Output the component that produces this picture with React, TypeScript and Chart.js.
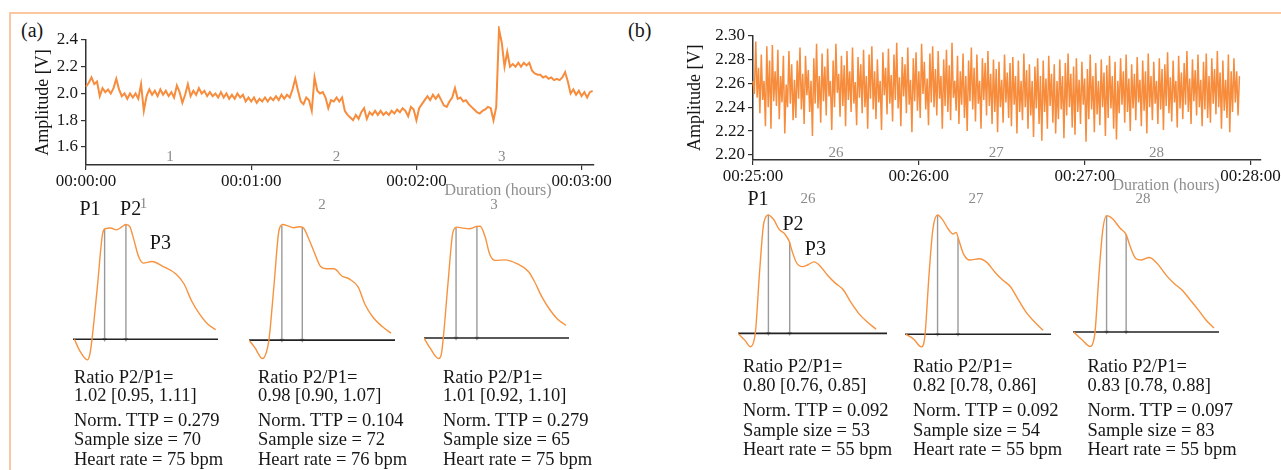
import React, { useEffect, useRef } from "react";
import { Chart, registerables } from "chart.js";
Chart.register(...registerables);

const FONT = '"Liberation Serif", "Times New Roman", serif';
const ORANGE = "#f68c3c";
const WAVE_ORANGE = "#f7933f";
const INK = "#161616";
const GRAY = "#8a8a8a";

// ---------- Panel (a): recording, 1 s per sample, starts 00:00:00 ----------
const A_STEP_S = 1;
const A_VALUES = [
  2.05, 2.08, 2.12, 2.07, 2.09, 1.98, 2.04, 2.01, 2.03, 2.0,
  2.04, 2.11, 2.03, 1.98, 2.0, 1.96, 2.0, 1.97, 2.0, 1.96,
  2.07, 1.87, 1.98, 2.03, 1.99, 2.02, 1.98, 2.03, 1.99, 2.02,
  1.98, 2.01, 1.97, 2.06, 2.01, 1.93, 1.99, 2.07, 1.98, 2.02,
  1.99, 2.04, 2.0, 2.02, 1.98, 2.01, 1.98, 2.0, 1.97, 2.01,
  1.97, 2.0, 1.96, 1.99, 1.96, 2.0, 1.97, 1.99, 1.94, 1.97,
  1.94, 1.97, 1.93, 1.96, 1.94, 1.97, 1.94, 1.97, 1.95, 1.98,
  1.95, 1.99, 1.96, 1.99, 1.97, 2.03, 2.11, 2.02, 1.94, 1.92,
  1.97, 1.95, 1.87, 2.12, 2.02, 2.0, 2.01, 1.97, 1.89, 1.95,
  1.94, 1.97, 1.94, 1.97, 1.87, 1.84, 1.82, 1.8, 1.84, 1.81,
  1.86, 1.89, 1.81, 1.86, 1.84, 1.87, 1.84, 1.87, 1.84, 1.86,
  1.84, 1.87, 1.85, 1.88, 1.86, 1.89, 1.87, 1.83, 1.9, 1.88,
  1.8, 1.89, 1.92, 1.95, 1.98, 1.95, 1.99, 1.96, 1.99, 1.95,
  1.91, 1.9, 1.94, 1.97, 2.04, 1.96, 1.97, 1.94, 1.95, 1.92,
  1.9, 1.88, 1.86, 1.85, 1.87, 1.88, 1.9, 1.89, 1.8, 1.9,
  2.48, 2.38, 2.2, 2.31, 2.2, 2.22, 2.2, 2.23, 2.2, 2.23,
  2.21, 2.23, 2.17, 2.15, 2.14, 2.14, 2.12, 2.13, 2.11, 2.12,
  2.1, 2.11, 2.1, 2.12, 2.16, 2.09, 2.0, 2.03, 1.99, 2.02,
  1.98, 2.01, 1.97, 2.01, 2.02,
];
const A_X_MAX_S = 184.5;
const A_X_TICKS_S = [0, 60, 120, 180];
const A_X_TICK_LABELS = ["00:00:00", "00:01:00", "00:02:00", "00:03:00"];
const A_Y_MIN = 1.465;
const A_Y_MAX = 2.4;
const A_Y_TICKS = [1.6, 1.8, 2.0, 2.2, 2.4];
const A_SEGMENT_LABELS = ["1", "2", "3"];
const A_SEGMENT_T = [30.5, 91, 151];

// ---------- Panel (b): recording, 0.5 s per sample, starts 00:25:00 ----------
const B_STEP_S = 0.5;
const B_VALUES = [
  2.262, 2.251, 2.295, 2.248, 2.273, 2.235, 2.284, 2.246, 2.262, 2.224,
  2.291, 2.24, 2.279, 2.222, 2.292, 2.245, 2.27, 2.241, 2.288, 2.23,
  2.266, 2.244, 2.283, 2.218, 2.259, 2.24, 2.287, 2.243, 2.276, 2.229,
  2.263, 2.231, 2.279, 2.247, 2.29, 2.238, 2.268, 2.226, 2.283, 2.25,
  2.271, 2.236, 2.262, 2.216, 2.281, 2.243, 2.293, 2.239, 2.266, 2.227,
  2.285, 2.245, 2.274, 2.233, 2.289, 2.249, 2.262, 2.221, 2.279, 2.24,
  2.293, 2.252, 2.268, 2.232, 2.283, 2.241, 2.275, 2.224, 2.287, 2.246,
  2.27, 2.236, 2.29, 2.243, 2.261, 2.225, 2.282, 2.248, 2.276, 2.235,
  2.288, 2.24, 2.266, 2.222, 2.284, 2.247, 2.291, 2.238, 2.27, 2.23,
  2.28, 2.244, 2.262, 2.221, 2.286, 2.25, 2.273, 2.234, 2.289, 2.243,
  2.267, 2.228, 2.284, 2.246, 2.294, 2.239, 2.265, 2.224, 2.282, 2.249,
  2.276, 2.235, 2.29, 2.242, 2.263, 2.219, 2.281, 2.245, 2.286, 2.237,
  2.27, 2.231, 2.293, 2.251, 2.278, 2.238, 2.264, 2.225, 2.285, 2.244,
  2.291, 2.24, 2.272, 2.233, 2.287, 2.247, 2.266, 2.222, 2.28, 2.241,
  2.288, 2.236, 2.275, 2.229, 2.294, 2.248, 2.262, 2.237, 2.283, 2.226,
  2.27, 2.242, 2.285, 2.231, 2.266, 2.22, 2.279, 2.245, 2.29, 2.238,
  2.273, 2.228, 2.284, 2.243, 2.262, 2.222, 2.281, 2.246, 2.277, 2.233,
  2.287, 2.241, 2.268, 2.226, 2.28, 2.236, 2.272, 2.219, 2.278, 2.24,
  2.263, 2.227, 2.284, 2.244, 2.269, 2.231, 2.277, 2.224, 2.282, 2.242,
  2.266, 2.218, 2.279, 2.236, 2.262, 2.229, 2.285, 2.24, 2.271, 2.222,
  2.276, 2.233, 2.262, 2.215, 2.274, 2.239, 2.281, 2.226, 2.266, 2.212,
  2.279, 2.236, 2.264, 2.222, 2.283, 2.241, 2.268, 2.227, 2.276, 2.218,
  2.262, 2.23, 2.28, 2.238, 2.266, 2.214, 2.277, 2.233, 2.285, 2.24,
  2.268, 2.223, 2.274, 2.217, 2.281, 2.236, 2.263, 2.226, 2.278, 2.242,
  2.264, 2.211, 2.272, 2.23, 2.284, 2.238, 2.266, 2.219, 2.277, 2.234,
  2.262, 2.225, 2.28, 2.24, 2.269, 2.216, 2.275, 2.231, 2.283, 2.239,
  2.266, 2.222, 2.278, 2.213, 2.262, 2.235, 2.281, 2.242, 2.27, 2.227,
  2.284, 2.236, 2.264, 2.22, 2.276, 2.239, 2.268, 2.229, 2.282, 2.244,
  2.263, 2.224, 2.279, 2.237, 2.27, 2.218, 2.285, 2.24, 2.266, 2.229,
  2.278, 2.243, 2.262, 2.226, 2.281, 2.238, 2.272, 2.221, 2.276, 2.241,
  2.286, 2.235, 2.265, 2.228, 2.279, 2.244, 2.262, 2.223, 2.283, 2.239,
  2.269, 2.23, 2.277, 2.242, 2.287, 2.236, 2.264, 2.226, 2.28, 2.245,
  2.271, 2.233, 2.284, 2.24, 2.263, 2.224, 2.278, 2.238, 2.285, 2.231,
  2.266, 2.227, 2.281, 2.243, 2.272, 2.234, 2.287, 2.24, 2.269, 2.222,
  2.279, 2.237, 2.263, 2.231, 2.284, 2.219, 2.27, 2.236, 2.281, 2.244,
  2.27, 2.233, 2.266,
];
const B_X_MAX_S = 183.8;
const B_X_TICKS_S = [0, 60, 120, 180];
const B_X_TICK_LABELS = ["00:25:00", "00:26:00", "00:27:00", "00:28:00"];
const B_Y_MIN = 2.1958;
const B_Y_MAX = 2.3;
const B_Y_TICKS = [2.2, 2.22, 2.24, 2.26, 2.28, 2.3];
const B_SEGMENT_LABELS = ["26", "27", "28"];
const B_SEGMENT_T = [30, 88, 146];

// ---------- Averaged pulse waveforms (normalised time, normalised amplitude) ----------
const A1_X = [0.01, 0.045, 0.099, 0.117, 0.131, 0.168, 0.205, 0.224, 0.259, 0.299, 0.339, 0.365, 0.392, 0.419, 0.453, 0.485, 0.544, 0.619, 0.712, 0.765, 0.819, 0.872, 0.925, 0.984];
const A1_Y = [0, -0.096, -0.179, -0.124, 0, 0.456, 0.925, 0.964, 0.97, 0.953, 0.981, 1.0, 0.981, 0.87, 0.718, 0.663, 0.677, 0.635, 0.567, 0.484, 0.331, 0.221, 0.138, 0.083];
const A2_X = [0.0, 0.039, 0.092, 0.119, 0.137, 0.172, 0.206, 0.233, 0.265, 0.305, 0.345, 0.371, 0.411, 0.451, 0.49, 0.529, 0.583, 0.636, 0.689, 0.748, 0.795, 0.849, 0.915, 0.973];
const A2_Y = [0, -0.063, -0.16, -0.105, 0.005, 0.486, 0.953, 1.0, 0.989, 0.973, 0.981, 0.973, 0.871, 0.747, 0.637, 0.618, 0.618, 0.555, 0.528, 0.458, 0.308, 0.198, 0.115, 0.06];
const A3_X = [0.0, 0.04, 0.101, 0.12, 0.133, 0.165, 0.2, 0.227, 0.266, 0.315, 0.36, 0.387, 0.421, 0.453, 0.493, 0.56, 0.64, 0.72, 0.76, 0.813, 0.867, 0.92, 0.979];
const A3_Y = [0, -0.085, -0.184, -0.142, 0, 0.482, 0.949, 0.992, 0.983, 0.977, 0.997, 1.0, 0.907, 0.75, 0.694, 0.699, 0.665, 0.595, 0.51, 0.368, 0.255, 0.17, 0.113];
const B1_X = [0.0, 0.047, 0.084, 0.105, 0.118, 0.144, 0.17, 0.183, 0.204, 0.224, 0.24, 0.275, 0.314, 0.345, 0.36, 0.392, 0.431, 0.47, 0.51, 0.549, 0.601, 0.653, 0.705, 0.757, 0.81, 0.862, 0.927];
const B1_Y = [0, -0.059, -0.113, -0.072, 0.022, 0.504, 0.907, 0.973, 1.0, 0.981, 0.96, 0.88, 0.839, 0.772, 0.706, 0.598, 0.563, 0.579, 0.603, 0.571, 0.491, 0.424, 0.37, 0.263, 0.169, 0.102, 0.035];
const B2_X = [0.005, 0.058, 0.112, 0.128, 0.138, 0.165, 0.191, 0.223, 0.257, 0.297, 0.329, 0.35, 0.369, 0.403, 0.443, 0.509, 0.562, 0.616, 0.669, 0.721, 0.774, 0.828, 0.894, 0.947];
const B2_Y = [0, -0.04, -0.106, -0.08, 0.006, 0.507, 0.88, 1.0, 0.96, 0.88, 0.84, 0.854, 0.787, 0.667, 0.622, 0.632, 0.6, 0.52, 0.454, 0.4, 0.294, 0.187, 0.094, 0.032];
const B3_X = [0.005, 0.058, 0.119, 0.138, 0.151, 0.178, 0.204, 0.23, 0.271, 0.323, 0.364, 0.39, 0.43, 0.469, 0.522, 0.575, 0.642, 0.695, 0.747, 0.801, 0.854, 0.912, 0.966];
const B3_Y = [0, -0.063, -0.125, -0.09, 0, 0.496, 0.877, 1.0, 0.973, 0.891, 0.837, 0.741, 0.632, 0.619, 0.64, 0.591, 0.482, 0.414, 0.36, 0.278, 0.196, 0.101, 0.033];

// P1 / P2 marker positions [time, amplitude] for each waveform
const A_P1 = [[0.218, 0.962], [0.225, 0.99], [0.221, 0.985]];
const A_P2 = [[0.365, 1.0], [0.365, 0.975], [0.365, 0.997]];
const B_P1 = [[0.204, 1.0], [0.223, 1.0], [0.23, 1.0]];
const B_P2 = [[0.347, 0.766], [0.363, 0.805], [0.364, 0.837]];

const WAVE_Y_MIN = -0.25;
const WAVE_Y_MAX = 1.1;

// ---------- Summary statistics ----------
const A_RATIO = [1.02, 0.98, 1.01];
const A_RATIO_LO = [0.95, 0.9, 0.92];
const A_RATIO_HI = [1.11, 1.07, 1.1];
const A_TTP = [0.279, 0.104, 0.279];
const A_SAMPLE = [70, 72, 65];
const A_HR = [75, 76, 75];
const B_RATIO = [0.8, 0.82, 0.83];
const B_RATIO_LO = [0.76, 0.78, 0.78];
const B_RATIO_HI = [0.85, 0.86, 0.88];
const B_TTP = [0.092, 0.092, 0.097];
const B_SAMPLE = [53, 54, 83];
const B_HR = [55, 55, 55];

// ---------- layout ----------
const A_WAVE_BOX = [
  { left: 68.6, top: 208.9, width: 153, height: 163 },
  { left: 245, top: 208.9, width: 154, height: 164 },
  { left: 420.4, top: 210.5, width: 153, height: 159 },
];
const B_WAVE_BOX = [
  { left: 734, top: 199.3, width: 157, height: 168 },
  { left: 900.8, top: 199.2, width: 154, height: 169 },
  { left: 1068.5, top: 199.5, width: 154, height: 165 },
];

type CanvasProps = { make: () => any; left: number; top: number; width: number; height: number };

function ChartCanvas({ make, left, top, width, height }: CanvasProps) {
  const ref = useRef<HTMLCanvasElement>(null);
  useEffect(() => {
    const chart = new Chart(ref.current as HTMLCanvasElement, make());
    return () => chart.destroy();
  }, []);
  return (
    <canvas
      ref={ref}
      width={width}
      height={height}
      style={{ position: "absolute", left, top, width, height, display: "block" }}
    />
  );
}

function topConfig(p: any) {
  const pts = p.values.map((v: number, i: number) => ({ x: i * p.step, y: v }));
  const axisGrid = { display: true, drawOnChartArea: false, drawTicks: true, tickLength: 5, color: "#333", lineWidth: 1.2 };
  const axisBorder = { display: true, color: "#333", width: 1.5 };
  return {
    type: "line",
    data: {
      datasets: [
        { data: pts, borderColor: ORANGE, borderWidth: p.lineWidth, pointRadius: 0, tension: 0, fill: false, clip: false },
      ],
    },
    options: {
      animation: false,
      responsive: false,
      events: [],
      layout: { padding: { top: p.padTop, right: p.padRight, bottom: 0, left: 0 } },
      plugins: { legend: { display: false }, tooltip: { enabled: false } },
      scales: {
        x: {
          type: "linear",
          min: 0,
          max: p.xMax,
          afterBuildTicks: (s: any) => {
            s.ticks = p.xTicks.map((v: number) => ({ value: v }));
          },
          afterFit: (s: any) => {
            s.height = 40;
          },
          ticks: {
            callback: (_v: any, i: number) => p.xTickLabels[i],
            font: { family: FONT, size: 17 },
            color: INK,
            padding: 1,
            maxRotation: 0,
            autoSkip: false,
          },
          grid: axisGrid,
          border: axisBorder,
        },
        y: {
          type: "linear",
          min: p.yMin,
          max: p.yMax,
          afterBuildTicks: (s: any) => {
            s.ticks = p.yTicks.map((v: number) => ({ value: v }));
          },
          afterFit: (s: any) => {
            s.width = p.yAxisWidth;
          },
          ticks: {
            callback: (v: number) => Number(v).toFixed(p.yDigits),
            font: { family: FONT, size: 17 },
            color: INK,
            padding: 3,
          },
          title: {
            display: true,
            text: "Amplitude [V]",
            font: { family: FONT, size: 18 },
            color: INK,
            padding: { top: p.titlePad, bottom: 0 },
          },
          grid: axisGrid,
          border: axisBorder,
        },
      },
    },
    plugins: [
      {
        id: "segmentLabels",
        afterDatasetsDraw(chart: any) {
          const { ctx, chartArea, scales } = chart;
          ctx.save();
          ctx.font = `15px ${FONT}`;
          ctx.fillStyle = GRAY;
          ctx.textAlign = "center";
          ctx.textBaseline = "middle";
          p.segT.forEach((t: number, i: number) => {
            ctx.fillText(p.segLabels[i], scales.x.getPixelForValue(t), chartArea.bottom - p.segOffset);
          });
          ctx.restore();
        },
      },
    ],
  };
}

function waveConfig(xs: number[], ys: number[], p1: number[], p2: number[]) {
  const pts = xs.map((x, i) => ({ x, y: ys[i] }));
  const marker = (m: number[]) => ({
    data: [
      { x: m[0], y: 0 },
      { x: m[0], y: m[1] },
    ],
    borderColor: "#9a9a9a",
    backgroundColor: "#9a9a9a",
    borderWidth: 1.4,
    pointRadius: [2.6, 0],
    pointStyle: "triangle",
    rotation: 180,
    pointBorderWidth: 0,
    tension: 0,
  });
  return {
    type: "line",
    data: {
      datasets: [
        {
          data: pts,
          borderColor: WAVE_ORANGE,
          borderWidth: 1.4,
          pointRadius: 0,
          cubicInterpolationMode: "monotone",
          fill: false,
        },
        {
          data: [
            { x: 0, y: 0 },
            { x: 1, y: 0 },
          ],
          borderColor: "#222",
          borderWidth: 1.6,
          pointRadius: 0,
        },
        marker(p1),
        marker(p2),
      ],
    },
    options: {
      animation: false,
      responsive: false,
      events: [],
      layout: { padding: 0 },
      plugins: { legend: { display: false }, tooltip: { enabled: false } },
      scales: {
        x: { type: "linear", min: 0, max: 1, display: false },
        y: { type: "linear", min: WAVE_Y_MIN, max: WAVE_Y_MAX, display: false },
      },
    },
  };
}

function Txt({ s, x, cy, size, color = INK, center = false }: any) {
  return (
    <div
      style={{
        position: "absolute",
        left: x,
        top: cy - size / 2,
        fontFamily: FONT,
        fontSize: size,
        lineHeight: `${size}px`,
        color,
        whiteSpace: "nowrap",
        transform: center ? "translateX(-50%)" : undefined,
      }}
    >
      {s}
    </div>
  );
}

function Stats({ colX, lines, ratio, lo, hi, ttp, n, hr }: any) {
  const fs = 18.5;
  return (
    <>
      {colX.map((x: number, i: number) => (
        <React.Fragment key={i}>
          <Txt s="Ratio P2/P1=" x={x} cy={lines[0]} size={fs} />
          <Txt s={`${ratio[i].toFixed(2)} [${lo[i].toFixed(2)}, ${hi[i].toFixed(2)}]`} x={x} cy={lines[1]} size={fs} />
          <Txt s={`Norm. TTP = ${ttp[i].toFixed(3)}`} x={x} cy={lines[2]} size={fs} />
          <Txt s={`Sample size = ${n[i]}`} x={x} cy={lines[3]} size={fs} />
          <Txt s={`Heart rate = ${hr[i]} bpm`} x={x} cy={lines[4]} size={fs} />
        </React.Fragment>
      ))}
    </>
  );
}

export default function App() {
  const aWaves = [
    [A1_X, A1_Y],
    [A2_X, A2_Y],
    [A3_X, A3_Y],
  ];
  const bWaves = [
    [B1_X, B1_Y],
    [B2_X, B2_Y],
    [B3_X, B3_Y],
  ];
  return (
    <div
      style={{
        position: "absolute",
        left: 0,
        top: 0,
        width: 1281,
        height: 470,
        overflow: "hidden",
        background: "#fff",
      }}
    >
      <div
        style={{
          position: "absolute",
          left: 9,
          top: 12,
          width: 1300,
          height: 500,
          borderTop: "2px solid #f9c8a2",
          borderLeft: "2px solid #f9c8a2",
        }}
      />
      <Txt s="(a)" x={21} cy={30} size={20} />
      <Txt s="(b)" x={628} cy={30} size={20} />

      <ChartCanvas
        left={0}
        top={26}
        width={620}
        height={179}
        make={() =>
          topConfig({
            values: A_VALUES,
            step: A_STEP_S,
            lineWidth: 2,
            xMax: A_X_MAX_S,
            xTicks: A_X_TICKS_S,
            xTickLabels: A_X_TICK_LABELS,
            yMin: A_Y_MIN,
            yMax: A_Y_MAX,
            yTicks: A_Y_TICKS,
            yDigits: 1,
            padTop: 14,
            padRight: 26,
            yAxisWidth: 86,
            titlePad: 32.2,
            segT: A_SEGMENT_T,
            segLabels: A_SEGMENT_LABELS,
            segOffset: 8,
          })
        }
      />
      <ChartCanvas
        left={640}
        top={21}
        width={645}
        height={179}
        make={() =>
          topConfig({
            values: B_VALUES,
            step: B_STEP_S,
            lineWidth: 1.5,
            xMax: B_X_MAX_S,
            xTicks: B_X_TICKS_S,
            xTickLabels: B_X_TICK_LABELS,
            yMin: B_Y_MIN,
            yMax: B_Y_MAX,
            yTicks: B_Y_TICKS,
            yDigits: 2,
            padTop: 14.5,
            padRight: 24,
            yAxisWidth: 113,
            titlePad: 44.2,
            segT: B_SEGMENT_T,
            segLabels: B_SEGMENT_LABELS,
            segOffset: 7,
          })
        }
      />
      <Txt s="Duration (hours)" x={498} cy={190} size={16} color="#8f8f8f" center />
      <Txt s="Duration (hours)" x={1166} cy={185} size={16} color="#8f8f8f" center />

      {aWaves.map((w, i) => (
        <ChartCanvas
          key={"a" + i}
          {...A_WAVE_BOX[i]}
          make={() => waveConfig(w[0], w[1], A_P1[i], A_P2[i])}
        />
      ))}
      {bWaves.map((w, i) => (
        <ChartCanvas
          key={"b" + i}
          {...B_WAVE_BOX[i]}
          make={() => waveConfig(w[0], w[1], B_P1[i], B_P2[i])}
        />
      ))}

      <Txt s="1" x={143.5} cy={203.5} size={15} color={GRAY} center />
      <Txt s="2" x={322} cy={204} size={15} color={GRAY} center />
      <Txt s="3" x={494} cy={204} size={15} color={GRAY} center />
      <Txt s="26" x={808} cy={198} size={15} color={GRAY} center />
      <Txt s="27" x={976} cy={198} size={15} color={GRAY} center />
      <Txt s="28" x={1143} cy={198} size={15} color={GRAY} center />

      <Txt s="P1" x={90} cy={208} size={20} center />
      <Txt s="P2" x={130.6} cy={208} size={20} center />
      <Txt s="P3" x={160.4} cy={241.7} size={20} center />
      <Txt s="P1" x={758} cy={198} size={20} center />
      <Txt s="P2" x={793} cy={223} size={20} center />
      <Txt s="P3" x={815.4} cy={248} size={20} center />

      <Stats
        colX={[74, 258, 443]}
        lines={[377, 395, 420, 439.5, 459]}
        ratio={A_RATIO}
        lo={A_RATIO_LO}
        hi={A_RATIO_HI}
        ttp={A_TTP}
        n={A_SAMPLE}
        hr={A_HR}
      />
      <Stats
        colX={[743, 913, 1087.5]}
        lines={[366, 385, 410.5, 430, 449.5]}
        ratio={B_RATIO}
        lo={B_RATIO_LO}
        hi={B_RATIO_HI}
        ttp={B_TTP}
        n={B_SAMPLE}
        hr={B_HR}
      />
    </div>
  );
}
